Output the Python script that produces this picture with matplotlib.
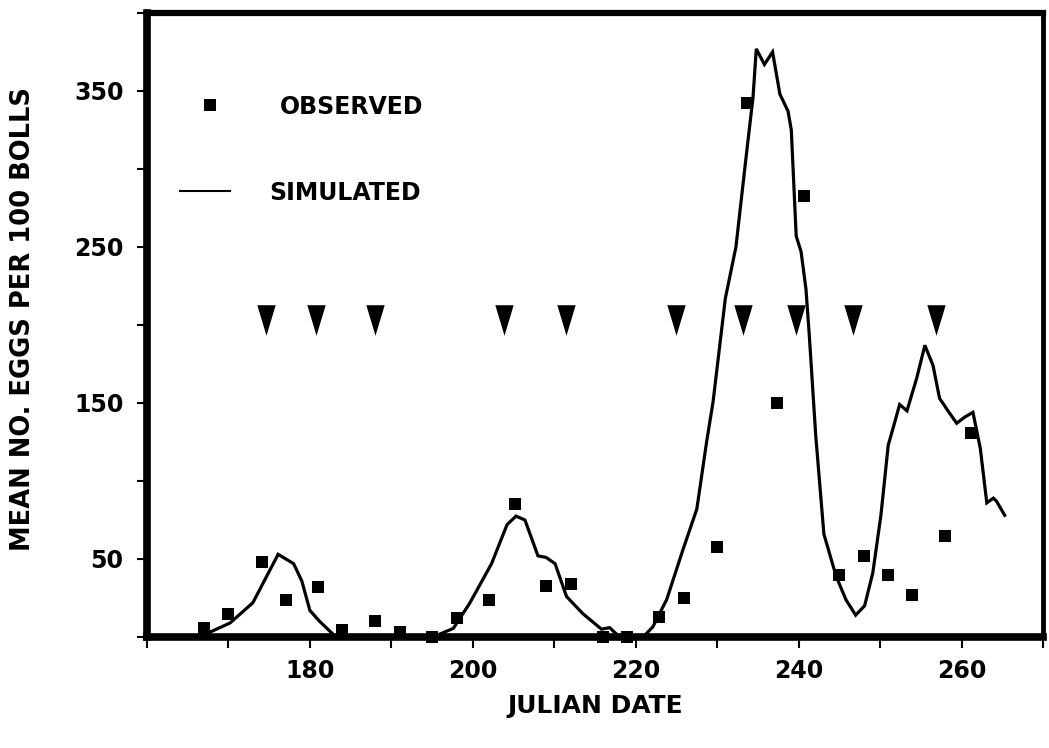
import matplotlib
matplotlib.use("Agg")
import matplotlib.pyplot as plt
from matplotlib.path import Path
from matplotlib.lines import Line2D

plt.rcParams['font.family'] = ['DejaVu Sans']
plt.rcParams['font.weight'] = 'bold'

# ---- data ----
obs_day = [167.0, 170.0, 174.1, 177.1, 181.0, 184.0, 188.0, 191.0, 195.0, 198.1,
           202.0, 205.2, 209.0, 212.0, 216.0, 218.9, 222.9, 225.9, 230.0, 233.6,
           237.3, 240.6, 245.0, 248.0, 251.0, 253.9, 258.0, 261.2]
obs_val = [6, 15, 48, 24, 32, 4.5, 10, 3, 0, 12,
           24, 85, 33, 34, 0, 0, 13, 25, 58, 342,
           150, 283, 40, 52, 40, 27, 65, 131]

sim_day = [165.0, 166.5, 168.1, 170.2, 173.0, 174.3, 176.1, 178.0, 179.0, 180.0,
           181.2, 183.1, 184.0, 194.0, 195.1, 197.6, 199.6, 202.3, 204.2, 205.3,
           206.4, 208.0, 209.0, 210.1, 211.5, 213.5, 215.8, 216.8, 218.0, 220.9,
           222.1, 223.8, 225.8, 227.5, 228.7, 229.5, 231.0, 232.3, 233.6, 234.4,
           234.8, 235.8, 236.8, 237.7, 238.7, 239.1, 239.7, 240.3, 240.9, 241.3,
           242.1, 243.1, 244.6, 245.8, 247.0, 248.1, 249.1, 250.1, 251.0, 251.6,
           252.4, 253.3, 254.5, 255.5, 256.5, 257.3, 258.2, 259.4, 260.4, 261.4,
           262.3, 263.1, 263.9, 264.3, 265.3]
sim_val = [0, 0.5, 4, 9, 22, 35, 53, 47, 36, 17,
           10, 0.5, 0, 0, 0, 5.5, 21.5, 47, 72, 77.5,
           75, 52, 51, 47, 26, 15, 5, 6, 0, 0,
           6.5, 24, 56, 82, 125, 151, 217, 250, 310, 346,
           377, 367, 375, 348, 337, 325, 257, 247, 223, 194,
           129, 66, 39, 24, 14, 20, 41, 78, 123, 134,
           149, 145, 166, 187, 174, 153, 146, 137, 141, 144,
           121, 86, 89, 87, 78]

spray_day = [174.6, 180.8, 188.0, 203.8, 211.5, 224.9, 233.2, 239.7, 246.7, 256.9]
spray_val = [203] * len(spray_day)

xticks = [160, 170, 180, 190, 200, 210, 220, 230, 240, 250, 260, 270]
xtick_labels = ['', '', '180', '', '200', '', '220', '', '240', '', '260', '']
yticks = [0, 50, 100, 150, 200, 250, 300, 350, 400]
ytick_labels = ['', '50', '', '150', '', '250', '', '350', '']

# ---- figure ----
W, H = 1049, 748
fig = plt.figure(figsize=(W / 100, H / 100), dpi=100)
ax = fig.add_axes([147 / W, 1 - 637 / H, 896 / W, 624 / H])

tri = Path([(-0.6, 1.0), (0.6, 1.0), (0.0, -1.0), (-0.6, 1.0)],
           [Path.MOVETO, Path.LINETO, Path.LINETO, Path.CLOSEPOLY])

ax.plot(sim_day, sim_val, color='black', lw=2.3, solid_joinstyle='miter', zorder=3)
ax.plot(obs_day, obs_val, linestyle='none', marker='s', markersize=9,
        markerfacecolor='black', markeredgewidth=0, color='black', clip_on=False, zorder=4)
ax.plot(spray_day, spray_val, linestyle='none', marker=tri, markersize=22,
        markerfacecolor='black', markeredgewidth=0, color='black', zorder=4)

ax.set_xlim(160, 270)
ax.set_ylim(0, 400)
ax.set_xticks(xticks)
ax.set_xticklabels(xtick_labels)
ax.set_yticks(yticks)
ax.set_yticklabels(ytick_labels)

ax.tick_params(axis='x', direction='out', length=8, width=1.5, pad=8, labelsize=17)
ax.tick_params(axis='y', direction='out', length=7, width=1.5, pad=10, labelsize=17)
for lab in ax.get_xticklabels() + ax.get_yticklabels():
    lab.set_fontweight('bold')

ax.spines['left'].set_linewidth(5.5)
ax.spines['bottom'].set_linewidth(5.5)
ax.spines['top'].set_linewidth(4.5)
ax.spines['right'].set_linewidth(3.5)

ax.set_xlabel('JULIAN DATE', fontsize=18, fontweight='bold')
ax.set_ylabel('MEAN NO. EGGS PER 100 BOLLS', fontsize=18.5, fontweight='bold')
ax.xaxis.set_label_coords(0.5, (637 - 706) / 624)
ax.yaxis.set_label_coords((23 - 147) / 896, 0.51)
ax.xaxis.label.set_va('center')
ax.yaxis.label.set_va('center')

fs = 17
px = fs * 100 / 72.0
h_obs = Line2D([], [], linestyle='none', marker='s', markersize=9,
               markerfacecolor='black', markeredgewidth=0, color='black')
h_sim = Line2D([], [], color='black', lw=1.5)
leg1 = ax.legend([h_obs], ['OBSERVED'], loc='center left',
                 bbox_to_anchor=((185 - 147) / 896, (637 - 106.7) / 624),
                 frameon=False, borderaxespad=0, borderpad=0,
                 handlelength=50 / px, handletextpad=45 / px,
                 prop={'size': fs, 'weight': 'bold'})
ax.add_artist(leg1)
leg2 = ax.legend([h_sim], ['SIMULATED'], loc='center left',
                 bbox_to_anchor=((180 - 147) / 896, (637 - 192.7) / 624),
                 frameon=False, borderaxespad=0, borderpad=0,
                 handlelength=50 / px, handletextpad=39 / px,
                 prop={'size': fs, 'weight': 'bold'})

fig.savefig('out.png', dpi=100)
